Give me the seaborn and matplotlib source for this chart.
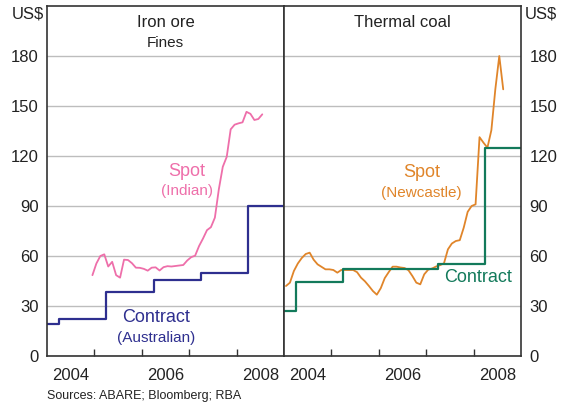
import numpy as np
import pandas as pd
import seaborn as sns
import matplotlib.pyplot as plt

# ---- data (US$ per tonne) ----
# iron ore spot (Indian fines), monthly from Dec 2004
iron_spot = [48.5, 55.5, 60, 61, 53.7, 56.5, 48.5, 47, 57.8, 57.6, 55.7, 53,
             52.9, 52.3, 51.2, 53, 53.2, 51.3, 53.3, 53.9, 53.7, 54, 54.3, 54.6,
             57.3, 59.3, 60.2, 66, 70.5, 75.5, 77.3, 83, 100, 113.5, 119.5, 136,
             138.8, 139.6, 140.2, 146.5, 145.3, 141.6, 142.2, 145]
iron_spot_start = "2004-12"

# thermal coal spot (Newcastle), monthly from Jan 2004
coal_spot = [42, 44, 51, 55.5, 58.8, 61.2, 62, 57.8, 55, 53.5, 52, 52,
             51.6, 50, 51.6, 51.6, 51.6, 51.6, 50.3, 47, 44.8, 42, 39, 36.8,
             40.7, 46.7, 50.3, 53.6, 53.6, 53.1, 52.8, 51.5, 48, 44, 43, 49,
             51.8, 52.5, 53.7, 54.5, 55.6, 64, 67.5, 69, 69.5, 77, 86.5, 90,
             91, 131.3, 128, 125, 135.5, 160, 180, 160]
coal_spot_start = "2004-01"

# contract prices, changing each April (last value held to end of 2008)
contract_dates = [2004.0, 2004.25, 2005.25, 2006.25, 2007.25, 2008.25, 2009.0]
iron_contract = [19.2, 22.4, 38.4, 45.7, 50.0, 90.0, 90.0]
coal_contract = [27.0, 44.6, 52.2, 52.2, 55.4, 124.6, 124.6]

yticks = [0, 30, 60, 90, 120, 150, 180]
year_labels = ["2004", "2006", "2008"]


def monthly(start, values):
    d = pd.date_range(start, periods=len(values), freq="MS")
    x = d.year + (d.month - 0.5) / 12
    return pd.DataFrame({"x": x, "y": values})


iron_df = monthly(iron_spot_start, iron_spot)
coal_df = monthly(coal_spot_start, coal_spot)

sns.set_theme(style="white")
plt.rcParams["font.family"] = ["Liberation Sans", "DejaVu Sans"]
txt = "#222222"

fig = plt.figure(figsize=(5.64, 4.04), dpi=100)
W, H = 564, 404
ax1 = fig.add_axes([47 / W, 1 - 356 / H, 237 / W, 350 / H])
ax2 = fig.add_axes([284 / W, 1 - 356 / H, 237 / W, 350 / H])

pink, navy = "#EE6FAA", "#2E2F8F"
orange, green = "#E0852A", "#137A5B"

sns.lineplot(data=iron_df, x="x", y="y", ax=ax1, color=pink, lw=1.3)
sns.lineplot(x=contract_dates, y=iron_contract, ax=ax1, color=navy, lw=1.6,
             drawstyle="steps-post")
sns.lineplot(data=coal_df, x="x", y="y", ax=ax2, color=orange, lw=1.3)
sns.lineplot(x=contract_dates, y=coal_contract, ax=ax2, color=green, lw=1.6,
             drawstyle="steps-post")

for ax in (ax1, ax2):
    ax.set_xlim(2004, 2009)
    ax.set_ylim(0, 210)
    ax.set_xlabel("")
    ax.set_ylabel("")
    ax.set_yticks(yticks)
    ax.grid(axis="y", color="#BDBDBD", lw=1)
    ax.set_axisbelow(True)
    ax.set_xticks([2004.5, 2006.5, 2008.5])
    ax.set_xticklabels(year_labels)
    ax.set_xticks([2005, 2006, 2007, 2008], minor=True)
    ax.tick_params(axis="x", which="major", length=0, labelsize=12,
                   pad=9, colors=txt)
    ax.tick_params(axis="x", which="minor", direction="in", length=5,
                   width=1, color="#333333", bottom=True)
    ax.tick_params(axis="y", length=0, labelsize=12, colors=txt, pad=6)
    for s in ax.spines.values():
        s.set_color("#333333")
        s.set_linewidth(1.2)

ax2.yaxis.tick_right()
ax2.tick_params(axis="y", labelright=True, labelleft=False)

# panel titles
ax1.text(0.5, 0.975, "Iron ore", transform=ax1.transAxes, ha="center",
         va="top", fontsize=12, color=txt)
ax1.text(0.5, 0.915, "Fines", transform=ax1.transAxes, ha="center",
         va="top", fontsize=11, color=txt)
ax2.text(0.5, 0.975, "Thermal coal", transform=ax2.transAxes, ha="center",
         va="top", fontsize=12, color=txt)

# units
fig.text(44 / W, 1 - 14 / H, "US$", ha="right", va="center", fontsize=12, color=txt)
fig.text(525 / W, 1 - 14 / H, "US$", ha="left", va="center", fontsize=12, color=txt)

# series labels
ax1.text(2006.95, 111, "Spot", ha="center", va="center", fontsize=13, color=pink)
ax1.text(2006.95, 99, "(Indian)", ha="center", va="center", fontsize=11, color=pink)
ax1.text(2006.3, 23, "Contract", ha="center", va="center", fontsize=13, color=navy)
ax1.text(2006.3, 11, "(Australian)", ha="center", va="center", fontsize=11, color=navy)
ax2.text(2006.9, 110, "Spot", ha="center", va="center", fontsize=13, color=orange)
ax2.text(2006.9, 98, "(Newcastle)", ha="center", va="center", fontsize=11, color=orange)
ax2.text(2008.1, 47, "Contract", ha="center", va="center", fontsize=13, color=green)

fig.text(47 / W, 1 - 396 / H, "Sources: ABARE; Bloomberg; RBA", ha="left",
         va="center", fontsize=9, color=txt)

fig.savefig("out.png", dpi=100)
